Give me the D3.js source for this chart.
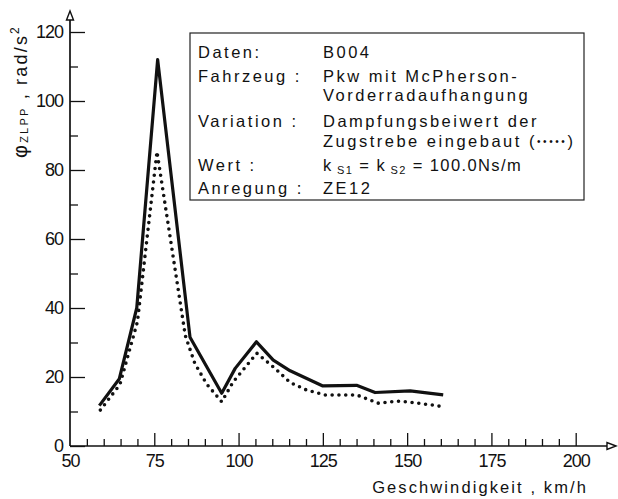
<!DOCTYPE html>
<html>
<head>
<meta charset="utf-8">
<script src="https://cdn.jsdelivr.net/npm/d3@7"></script>
<style>
  html, body { margin: 0; padding: 0; background: #fff; }
  svg { display: block; }
  text { font-family: "Liberation Sans", Arial, sans-serif; fill: #111; }
</style>
</head>
<body>
<svg id="chart" width="618" height="499"></svg>
<script>
// Speed (km/h) and peak-to-peak angular acceleration (rad/s^2)
const speedBase = [58.7, 64.6, 69.8, 76.0, 85.6, 95.0, 99.0, 105.3, 110.3, 115.3, 125.0, 135.0, 140.5, 150.9, 160.7];
const accelBase = [11.7, 19.4, 40.0, 112.0, 31.5, 15.3, 22.5, 30.2, 24.9, 21.8, 17.4, 17.6, 15.5, 16.0, 14.8];

// Variant with damped tie rod installed (dotted curve)
const speedDamped = [59.0, 64.8, 70.0, 75.8, 84.2, 87.0, 90.5, 95.0, 98.4, 105.4, 110.8, 115.3, 120.2, 125.6, 135.0, 141.5, 146.9, 150.9, 158.8, 160.2];
const accelDamped = [10.4, 17.8, 36.0, 85.3, 32.0, 24.0, 18.0, 12.8, 18.6, 26.9, 22.5, 18.4, 16.2, 14.8, 14.8, 12.4, 13.0, 12.7, 11.7, 11.4];

const xMajorTicks = [50, 75, 100, 125, 150, 175, 200];
const xMinorTicks = d3.range(55, 200, 5).filter(v => v % 25 !== 0);
const yMajorTicks = [0, 20, 40, 60, 80, 100, 120];
const yMinorTicks = [10, 30, 50, 70, 90, 110];

const infoLabels = ["Daten:", "Fahrzeug :", "", "Variation :", "", "Wert :", "Anregung :"];
const infoValues = ["B004", "Pkw mit McPherson-", "Vorderradaufhangung", "Dampfungsbeiwert der", "Zugstrebe eingebaut (•••••)", null, "ZE12"];

const svg = d3.select("#chart");
const x = d3.scaleLinear().domain([50, 200]).range([70, 575.7]);
const y = d3.scaleLinear().domain([0, 120]).range([446, 32]);

const ink = "#111";

// Axis lines with arrowheads
svg.append("line").attr("x1", x(50)).attr("x2", 607).attr("y1", y(0)).attr("y2", y(0))
  .attr("stroke", ink).attr("stroke-width", 1.7);
svg.append("line").attr("x1", x(50)).attr("x2", x(50)).attr("y1", y(0)).attr("y2", 20)
  .attr("stroke", ink).attr("stroke-width", 1.7);
svg.append("path").attr("d", `M${x(50)},11 L${x(50) - 3.5},20 L${x(50) + 3.5},20 Z`)
  .attr("fill", "#fff").attr("stroke", ink).attr("stroke-width", 1.4);
svg.append("path").attr("d", `M616,${y(0)} L607,${y(0) - 3.5} L607,${y(0) + 3.5} Z`)
  .attr("fill", "#fff").attr("stroke", ink).attr("stroke-width", 1.4);

// Y axis: ticks point into the plot
const yAxis = svg.append("g").attr("transform", `translate(${x(50)},0)`)
  .call(d3.axisLeft(y).tickValues(yMajorTicks).tickSizeInner(-15).tickSizeOuter(0).tickPadding(7));
const yMinor = svg.append("g").attr("transform", `translate(${x(50)},0)`)
  .call(d3.axisLeft(y).tickValues(yMinorTicks).tickSizeInner(-8).tickSizeOuter(0).tickFormat(""));

// X axis: ticks point upward
const xAxis = svg.append("g").attr("transform", `translate(0,${y(0)})`)
  .call(d3.axisBottom(x).tickValues(xMajorTicks).tickSizeInner(-13).tickSizeOuter(0).tickPadding(8));
const xMinor = svg.append("g").attr("transform", `translate(0,${y(0)})`)
  .call(d3.axisBottom(x).tickValues(xMinorTicks).tickSizeInner(-7).tickSizeOuter(0).tickFormat(""));

[yAxis, yMinor, xAxis, xMinor].forEach(g => {
  g.select(".domain").remove();
  g.selectAll(".tick line").attr("stroke", ink).attr("stroke-width", 1.3);
  g.selectAll(".tick text").attr("font-size", 18).attr("letter-spacing", -1)
    .attr("font-family", "Liberation Sans, Arial, sans-serif").attr("fill", ink);
});
xAxis.selectAll(".tick").filter(d => d === 50).select("line").remove();

// Axis titles
svg.append("text").attr("x", 588).attr("y", 493).attr("text-anchor", "end")
  .attr("font-size", 16.5).attr("letter-spacing", 2.1).text("Geschwindigkeit , km/h");

const yTitle = svg.append("text").attr("transform", "translate(27,158) rotate(-90)")
  .attr("font-size", 18).attr("letter-spacing", 2.2);
yTitle.append("tspan").attr("font-size", 20).text("φ");
yTitle.append("tspan").attr("font-size", 11).attr("dy", 1).text("ZLPP");
yTitle.append("tspan").attr("dy", -1).text(" , rad/s");
yTitle.append("tspan").attr("font-size", 12).attr("dy", -8).text("2");

// Curves
const line = d3.line().x(d => x(d[0])).y(d => y(d[1]));
svg.append("path").datum(d3.zip(speedBase, accelBase)).attr("d", line)
  .attr("fill", "none").attr("stroke", ink).attr("stroke-width", 3.2)
  .attr("stroke-linejoin", "round");
svg.append("path").datum(d3.zip(speedDamped, accelDamped)).attr("d", line)
  .attr("fill", "none").attr("stroke", ink).attr("stroke-width", 3.6)
  .attr("stroke-linecap", "round").attr("stroke-dasharray", "0,6.8");

// Info box
svg.append("rect").attr("x", 190).attr("y", 33).attr("width", 394).attr("height", 167)
  .attr("fill", "#fff").attr("stroke", "#222").attr("stroke-width", 1.2);

const rowBaselines = [58, 81.5, 101, 126.5, 147, 170.5, 194];
const info = svg.append("g").attr("font-size", 16.5).attr("letter-spacing", 2.5);
infoLabels.forEach((t, i) => {
  if (t) info.append("text").attr("x", 198).attr("y", rowBaselines[i]).text(t);
});
infoValues.forEach((t, i) => {
  const tx = info.append("text").attr("x", 323).attr("y", rowBaselines[i]);
  if (t === null) {
    tx.attr("letter-spacing", 1.4);
    tx.append("tspan").text("k");
    tx.append("tspan").attr("font-size", 11).attr("dy", 3).text(" S1");
    tx.append("tspan").attr("dy", -3).text(" = k");
    tx.append("tspan").attr("font-size", 11).attr("dy", 3).text(" S2");
    tx.append("tspan").attr("dy", -3).text(" = 100.0Ns/m");
  } else if (t.includes("(")) {
    const cut = t.indexOf("(");
    tx.append("tspan").text(t.slice(0, cut + 1));
    tx.append("tspan").attr("font-size", 10).attr("letter-spacing", 2.6).attr("dy", -2)
      .text(t.slice(cut + 1, -1));
    tx.append("tspan").attr("dy", 2).attr("letter-spacing", 0).text(")");
  } else {
    tx.text(t);
  }
});
</script>
</body>
</html>
